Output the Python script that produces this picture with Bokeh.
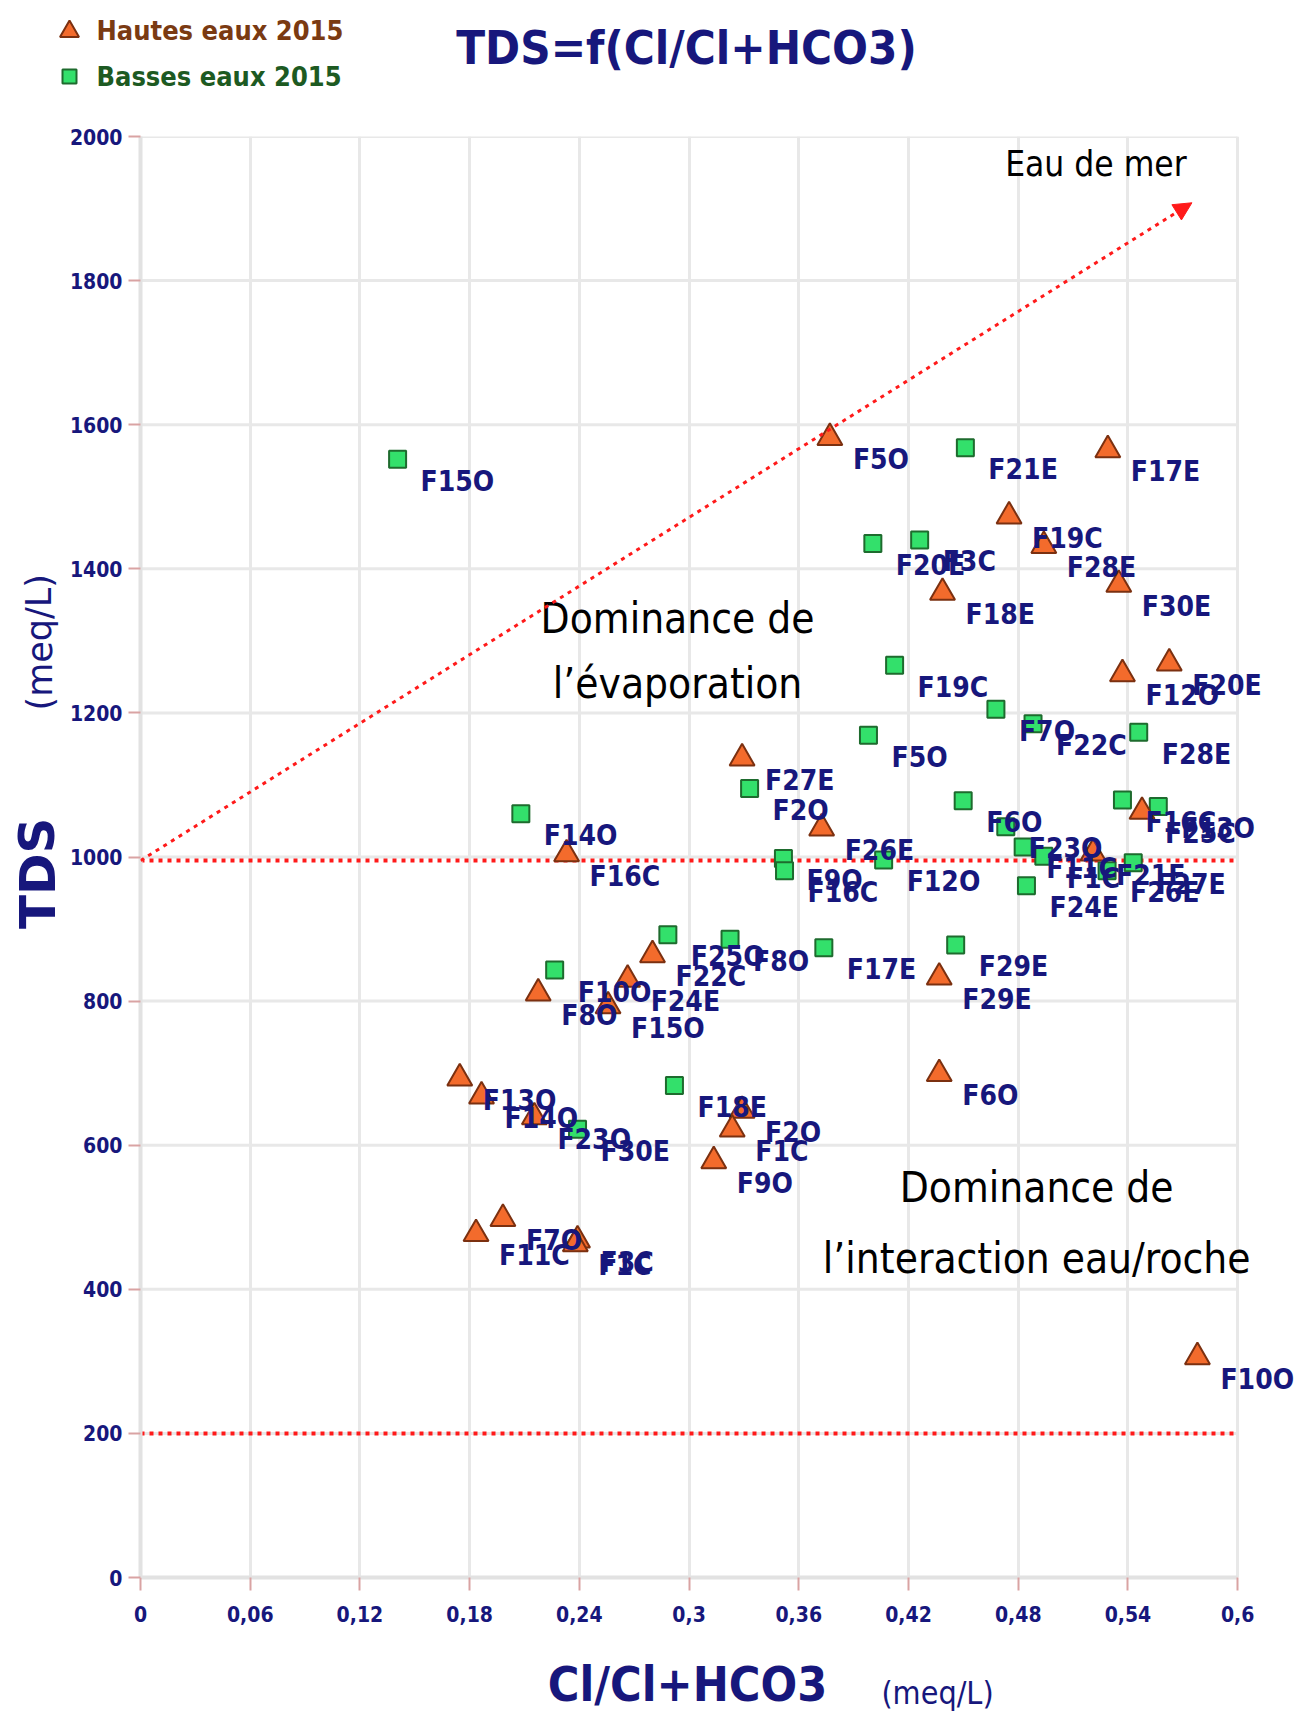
from bokeh.plotting import figure
from bokeh.layouts import column, row
from bokeh.models import (ColumnDataSource, Range1d, FixedTicker, LabelSet, Arrow, NormalHead)
from bokeh.core.properties import value
from bokeh.embed import file_html
from bokeh.resources import INLINE

# --- Hautes eaux 2015 (triangles) ---
high_names = ["F5O", "F17E", "F19C", "F28E", "F18E", "F30E", "F12O", "F20E", "F27E", "F26E",
              "F16C", "F25C", "F21E", "F22C", "F24E", "F8O", "F15O", "F13O", "F14O", "F23O",
              "F2O", "F1C", "F9O", "F7O", "F11C", "F3C", "F1C", "F6O", "F29E", "F10O"]
high_ratio = [0.377, 0.529, 0.475, 0.494, 0.4386, 0.535, 0.537, 0.5626, 0.329, 0.3725,
              0.233, 0.5477, 0.5209, 0.280, 0.2664, 0.2175, 0.2557, 0.1746, 0.1865, 0.2154,
              0.329, 0.3236, 0.3135, 0.1982, 0.1835, 0.239, 0.2378, 0.4368, 0.4368, 0.578]
high_tds = [1582, 1565, 1473, 1432, 1367, 1378, 1254, 1269, 1137, 1040,
            1004, 1063, 1005, 864, 830, 811, 793, 693, 668, 639,
            648, 622, 578, 498, 477, 468, 463, 699, 833, 306]

# --- Basses eaux 2015 (squares) ---
low_names = ["F15O", "F21E", "F20E", "F3C", "F19C", "F7O", "F22C", "F28E", "F5O", "F2O",
             "F6O", "F14O", "F23O", "F11C", "F1C", "F24E", "F26E", "F27E", "F16C", "F13O",
             "F9O", "F16C", "F12O", "F25O", "F8O", "F17E", "F29E", "F10O", "F30E", "F18E"]
low_ratio = [0.1406, 0.4511, 0.4005, 0.4261, 0.4124, 0.4678, 0.4881, 0.5459, 0.3981, 0.3331,
             0.4499, 0.208, 0.4732, 0.4827, 0.494, 0.4845, 0.5286, 0.5429, 0.537, 0.5566,
             0.3516, 0.3522, 0.4064, 0.2884, 0.3224, 0.3737, 0.4458, 0.2265, 0.239, 0.292]
low_tds = [1552, 1568, 1435, 1440, 1266, 1205, 1185, 1173, 1169, 1095,
           1078, 1060, 1042, 1014, 1001, 960, 981, 992, 1079, 1070,
           998, 981, 996, 892, 886, 874, 878, 843, 622, 683]

# --- axes ---
x_ticks = [0, 0.06, 0.12, 0.18, 0.24, 0.3, 0.36, 0.42, 0.48, 0.54, 0.6]
x_tick_labels = ["0", "0,06", "0,12", "0,18", "0,24", "0,3", "0,36", "0,42", "0,48", "0,54", "0,6"]
y_ticks = [0, 200, 400, 600, 800, 1000, 1200, 1400, 1600, 1800, 2000]

# reference lines: upper / lower TDS limits and the sea-water trend
TDS_UPPER = 995
TDS_LOWER = 200
SEA_RATIO = 0.575
SEA_TDS = 1908

NAVY = "#17177c"
RED = "#ff1a1a"
COND = "DejaVu Sans Condensed"
SANS = "DejaVu Sans"

W, H = 1295, 1713
TOP_H = 124          # band holding title and legend
BOT_H = 79           # band holding the x-axis title
SIDE_W = 66          # band holding the y-axis title
MAIN_H = H - TOP_H - BOT_H
PAD_TOP, PAD_BOT, PAD_LEFT = 12, 57, 71
X_MAX, Y_MAX = 0.6, 2000
FRAME_W = W - SIDE_W - PAD_LEFT          # frame reaches the right edge
X_END = X_MAX * FRAME_W / 1100.0         # 0.6 sits 1100 px right of the y axis


def text_band(width, height):
    f = figure(width=width, height=height, x_range=Range1d(0, width), y_range=Range1d(height, 0),
               x_axis_type=None, y_axis_type=None, output_backend="svg", toolbar_location=None,
               min_border=0, title=None)
    f.outline_line_color = None
    f.background_fill_color = "white"
    f.border_fill_color = "white"
    return f


# ---------------- main scatter ----------------
p = figure(width=W - SIDE_W, height=MAIN_H, x_range=Range1d(0, X_END), y_range=Range1d(0, Y_MAX),
           output_backend="svg", toolbar_location=None, title=None,
           min_border_left=PAD_LEFT, min_border_right=0,
           min_border_top=PAD_TOP, min_border_bottom=PAD_BOT)
p.outline_line_color = None
p.background_fill_color = "white"
p.border_fill_color = "white"

p.xaxis.ticker = FixedTicker(ticks=x_ticks)
p.xaxis.major_label_overrides = dict(zip(x_ticks, x_tick_labels))
p.xaxis.bounds = (0, X_MAX)
p.yaxis.ticker = FixedTicker(ticks=y_ticks)
p.xgrid.ticker = FixedTicker(ticks=x_ticks)
p.xgrid.grid_line_color = "#e8e8e8"
p.xgrid.grid_line_width = 3
p.ygrid.visible = False
# horizontal grid stops at the last x tick
p.segment(x0=[0] * len(y_ticks), x1=[X_MAX] * len(y_ticks), y0=y_ticks, y1=y_ticks,
          line_color="#e8e8e8", line_width=3)

for ax in (p.xaxis[0], p.yaxis[0]):
    ax.axis_line_color = "#e2e2e2"
    ax.axis_line_width = 4
    ax.major_tick_line_color = "#d9a3a3"
    ax.major_tick_line_width = 2
    ax.major_tick_out = 13
    ax.major_tick_in = 0
    ax.minor_tick_line_color = None
    ax.major_label_text_font = COND
    ax.major_label_text_font_style = "bold"
    ax.major_label_text_font_size = "21px"
    ax.major_label_text_color = NAVY
p.yaxis.major_tick_out = 12
p.yaxis.major_label_standoff = 6
p.xaxis.major_label_standoff = 15

# reference lines
p.line([0, X_MAX], [TDS_UPPER, TDS_UPPER], line_color=RED, line_width=4, line_dash="4 5")
p.line([0, X_MAX], [TDS_LOWER, TDS_LOWER], line_color=RED, line_width=4, line_dash="4 5")
p.add_layout(Arrow(x_start=0, y_start=TDS_UPPER, x_end=SEA_RATIO, y_end=SEA_TDS,
                   line_color=RED, line_width=3, line_dash="4 5",
                   end=NormalHead(size=18, fill_color=RED, line_color=RED)))

high_src = ColumnDataSource(dict(x=high_ratio, y=high_tds, name=high_names))
low_src = ColumnDataSource(dict(x=low_ratio, y=low_tds, name=low_names))

SQ_FILL, SQ_LINE = "#33e06b", "#1e6b2e"
TR_FILL, TR_LINE = "#f36b2c", "#7b3010"
p.scatter("x", "y", source=low_src, marker="square", size=17,
          fill_color=SQ_FILL, line_color=SQ_LINE, line_width=2)
p.scatter("x", "y", source=high_src, marker="triangle", size=25,
          fill_color=TR_FILL, line_color=TR_LINE, line_width=2)

for src in (low_src, high_src):
    p.add_layout(LabelSet(x="x", y="y", text="name", source=src, x_offset=23, y_offset=-22,
                          text_baseline="middle", text_font=value(COND), text_font_style="bold",
                          text_font_size="28px", text_color=NAVY))

# region annotations (data coordinates)
notes = [("Eau de mer", 0.5225, 1962, "35px"),
         ("Dominance de", 0.2937, 1331, "42px"),
         ("l\u2019évaporation", 0.2937, 1241, "42px"),
         ("Dominance de", 0.4901, 541, "42px"),
         ("l\u2019interaction eau/roche", 0.4901, 443, "42px")]
p.text(x=[n[1] for n in notes], y=[n[2] for n in notes], text=[n[0] for n in notes],
       text_font_size=[n[3] for n in notes], text_align="center", text_baseline="middle",
       text_font=value(COND), text_color="black")

# ---------------- title + legend band ----------------
top = text_band(W, TOP_H)
top.text(x=[686], y=[47], text=["TDS=f(Cl/Cl+HCO3)"], text_align="center", text_baseline="middle",
         text_font=value(COND), text_font_style="bold", text_font_size="47px", text_color=NAVY)
top.scatter(x=[69], y=[31], marker="triangle", size=19, fill_color=TR_FILL, line_color=TR_LINE,
            line_width=2)
top.scatter(x=[69], y=[76], marker="square", size=14, fill_color=SQ_FILL, line_color=SQ_LINE,
            line_width=2)
top.text(x=[96], y=[30], text=["Hautes eaux 2015"], text_baseline="middle",
         text_font=value(COND), text_font_style="bold", text_font_size="27px", text_color="#7a3a12")
top.text(x=[96], y=[76], text=["Basses eaux 2015"], text_baseline="middle",
         text_font=value(COND), text_font_style="bold", text_font_size="27px", text_color="#1d5a22")

# ---------------- y-axis title band ----------------
side = text_band(SIDE_W, MAIN_H)
side.text(x=[37], y=[896 - TOP_H], text=["TDS"], angle=1.5708, text_align="center",
          text_baseline="middle", text_font=value(SANS), text_font_style="bold",
          text_font_size="50px", text_color=NAVY)
side.text(x=[39], y=[654 - TOP_H], text=["(meq/L)"], angle=1.5708, text_align="center",
          text_baseline="middle", text_font=value(SANS), text_font_size="35px", text_color=NAVY)

# ---------------- x-axis title band ----------------
bot = text_band(W, BOT_H)
bot.text(x=[687], y=[1683 - (H - BOT_H)], text=["Cl/Cl+HCO3"], text_align="center",
         text_baseline="middle", text_font=value(COND), text_font_style="bold",
         text_font_size="48px", text_color=NAVY)
bot.text(x=[937], y=[1692 - (H - BOT_H)], text=["(meq/L)"], text_align="center",
         text_baseline="middle", text_font=value(COND), text_font_size="32px", text_color=NAVY)

layout = column(top, row(side, p, spacing=0), bot, spacing=0)
open("out.html", "w").write(file_html(layout, INLINE))
